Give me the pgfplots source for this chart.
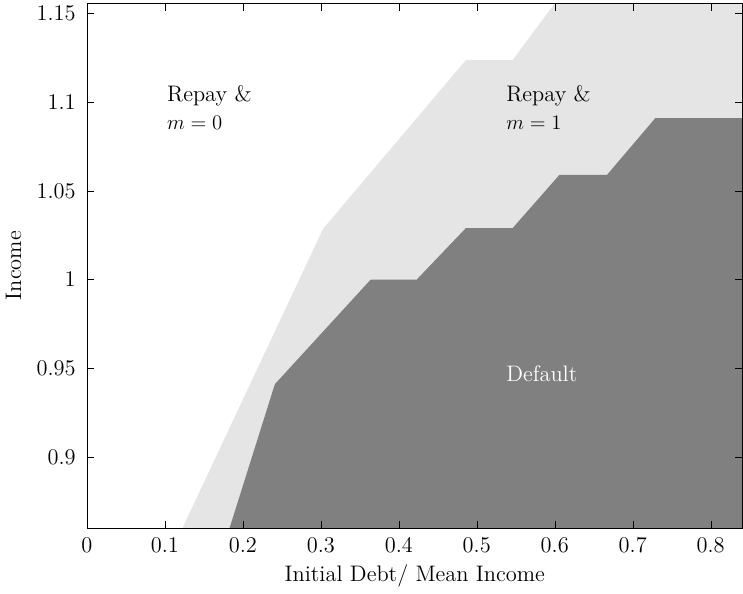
\documentclass[border=0pt]{standalone}
\usepackage{pgfplots}
\pgfplotsset{compat=1.18}
\begin{document}
\begin{tikzpicture}
\begin{axis}[scale only axis, width=380pt, height=304pt,
 xmin=0, xmax=0.841, ymin=0.86, ymax=1.1557,
 xtick={0,0.1,...,0.8}, ytick={0.9,0.95,1,1.05,1.1,1.15},
 yticklabels={0.9,0.95,1,1.05,1.1,1.15},
 xticklabels={0,0.1,0.2,0.3,0.4,0.5,0.6,0.7,0.8},
 tick align=inside, tick style={black}, axis on top,
 xlabel={Initial Debt/ Mean Income}, ylabel={Income},
 yticklabel style={xshift=-3pt}, xticklabel style={yshift=-2pt},
 ylabel style={yshift=2pt},
 tick label style={font=\fontsize{13}{15}\selectfont}, label style={font=\fontsize{13}{15}\selectfont}]
\addplot[fill=black!10, draw=none] coordinates {(0.1226,0.86) (0.303,1.0287) (0.486,1.1237) (0.546,1.1237) (0.6,1.1557) (0.841,1.1557) (0.841,0.86)} -- cycle;
\addplot[fill=black!50, draw=none] coordinates {(0.183,0.86) (0.241,0.941) (0.364,1.0) (0.423,1.0) (0.486,1.029) (0.546,1.029) (0.606,1.059) (0.667,1.059) (0.729,1.091) (0.841,1.091) (0.841,0.86)} -- cycle;
\node[align=left, anchor=west, font=\fontsize{13}{16}\selectfont] at (axis cs:0.095,1.097) {Repay \&\\ $m=0$};
\node[align=left, anchor=west, font=\fontsize{13}{16}\selectfont] at (axis cs:0.53,1.097) {Repay \&\\ $m=1$};
\node[anchor=west, white, font=\fontsize{13}{16}\selectfont] at (axis cs:0.53,0.947) {Default};
\end{axis}
\end{tikzpicture}
\end{document}
